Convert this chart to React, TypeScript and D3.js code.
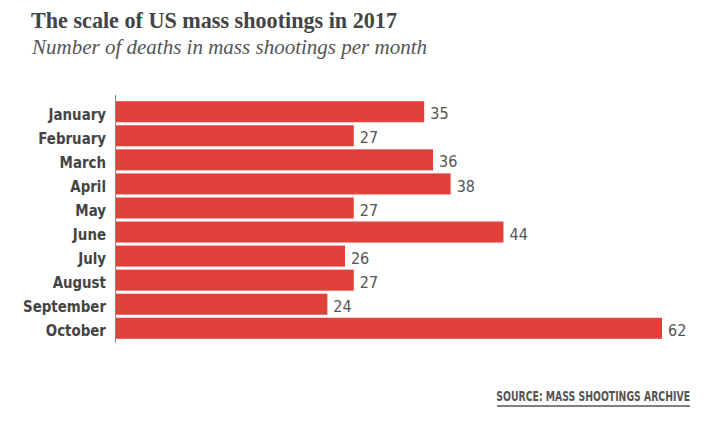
import React from "react";
import * as d3 from "d3";

const months = ["January","February","March","April","May","June","July","August","September","October"];
const deaths = [35,27,36,38,27,44,26,27,24,62];
const title = "The scale of US mass shootings in 2017";
const subtitle = "Number of deaths in mass shootings per month";
const source = "SOURCE: MASS SHOOTINGS ARCHIVE";

const W = 720, H = 428;
const x0 = 116;

export default function App() {
  const x = d3.scaleLinear().domain([0, 62]).range([x0, 662]);
  const y = d3.scaleBand().domain(months).range([100, 340]).paddingInner(0.125).paddingOuter(0.05);
  const narrow = "'DejaVu Sans Condensed', 'Liberation Sans Narrow', sans-serif";
  const lx = x0 - 10;
  return (
    <svg width={W} height={H} style={{ position: "absolute", left: 0, top: 0, background: "#fff" }}>
      <rect width={W} height={H} fill="#fff" />
      <text x={31} y={28} fontFamily="'Liberation Serif', 'DejaVu Serif', serif" fontWeight="bold" fontSize={22.5} fill="#444" textLength={366} lengthAdjust="spacingAndGlyphs">{title}</text>
      <text x={32} y={54} fontFamily="'Liberation Serif', 'DejaVu Serif', serif" fontStyle="italic" fontSize={21} fill="#555" textLength={395} lengthAdjust="spacingAndGlyphs">{subtitle}</text>
      {months.map((m, i) => (
        <g key={m}>
          <rect x={x(0)} y={y(m)} width={x(deaths[i]) - x(0)} height={y.bandwidth()} fill="#e2403b" />
          <text x={lx} y={(y(m) as number) + y.bandwidth() / 2 + 2.5} dy="0.35em" textAnchor="end" fontFamily={narrow} fontWeight="600" fontSize={15.5} fill="#444" transform={`translate(${lx},0) scale(0.96,1) translate(${-lx},0)`}>{m}</text>
          <text x={x(deaths[i]) + 6} y={(y(m) as number) + y.bandwidth() / 2 + 2} dy="0.35em" fontFamily={narrow} fontSize={16} fill="#555">{deaths[i]}</text>
        </g>
      ))}
      <line x1={115.5} x2={115.5} y1={95} y2={343} stroke="#888" strokeWidth={1} />
      <text x={690} y={401} textAnchor="end" fontFamily={narrow} fontWeight="bold" fontSize={14} fill="#555" transform="translate(690,0) scale(0.74,1) translate(-690,0)">{source}</text>
      <line x1={497} x2={690} y1={406} y2={406} stroke="#555" strokeWidth={1.5} />
    </svg>
  );
}
